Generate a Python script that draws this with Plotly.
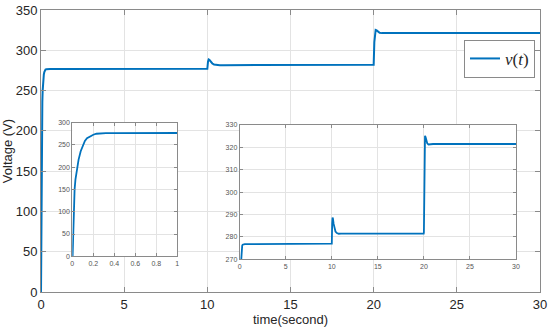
import plotly.graph_objects as go

# ---- data ----
time_s = [0, 0.003, 0.008, 0.012, 0.016, 0.022, 0.03, 0.04, 0.05, 0.06, 0.08,
          0.10, 0.12, 0.14, 0.17, 0.20, 0.23, 0.27, 0.32, 0.40, 0.55, 1.0,
          5.0, 9.98, 10.0, 10.04, 10.08, 10.12, 10.2, 10.3, 10.4, 10.55, 10.75,
          11.0, 15.0, 19.98, 20.0, 20.04, 20.08, 20.12, 20.18, 20.26, 20.36,
          20.5, 20.7, 21.0, 25.0, 30.0]
voltage = [0, 0, 40, 80, 110, 150, 172, 190, 204, 217, 236,
           250, 259, 265, 270, 273, 275.2, 276.1, 276.5, 276.7, 276.8, 276.8,
           276.8, 276.8, 277.0, 286.0, 288.7, 288.2, 285.8, 283.6, 282.4, 281.7, 281.4,
           281.5, 281.5, 281.5, 282.0, 310.0, 323.5, 325.2, 324.6, 323.0, 321.8,
           321.3, 321.4, 321.5, 321.5, 321.5]

main_xticks = [0, 5, 10, 15, 20, 25, 30]
main_yticks = [0, 50, 100, 150, 200, 250, 300, 350]
inset1_xticks = [0, 0.2, 0.4, 0.6, 0.8, 1]
inset1_xlabels = ["0", "0.2", "0.4", "0.6", "0.8", "1"]
inset1_yticks = [0, 50, 100, 150, 200, 250, 300]
inset2_xticks = [0, 5, 10, 15, 20, 25, 30]
inset2_yticks = [270, 280, 290, 300, 310, 320, 330]

LINE = "#0072BD"
AX = "#8a8a8a"
GRID = "#e3e3e3"
TXT = "#262626"

fig = go.Figure()
fig.add_trace(go.Scatter(x=time_s, y=voltage, mode="lines", name="<i>v</i>(<i>t</i>)",
                         line=dict(color=LINE, width=2), xaxis="x", yaxis="y"))
fig.add_trace(go.Scatter(x=time_s, y=voltage, mode="lines", showlegend=False,
                         line=dict(color=LINE, width=1.8), xaxis="x2", yaxis="y2"))
fig.add_trace(go.Scatter(x=time_s, y=voltage, mode="lines", showlegend=False,
                         line=dict(color=LINE, width=1.8), xaxis="x3", yaxis="y3"))

# white backgrounds of the insets (drawn under their own grids)
fig.add_shape(type="rect", xref="x2 domain", yref="y2 domain", x0=0, x1=1, y0=0, y1=1,
              fillcolor="white", line=dict(width=0), layer="below")
fig.add_shape(type="rect", xref="x3 domain", yref="y3 domain", x0=0, x1=1, y0=0, y1=1,
              fillcolor="white", line=dict(width=0), layer="below")

axis_common = dict(showline=True, linecolor=AX, linewidth=1, mirror="ticks",
                   ticks="inside", tickcolor=AX, showgrid=True, gridcolor=GRID,
                   gridwidth=1, zeroline=False, automargin=False)

fig.update_layout(
    width=550, height=332,
    margin=dict(l=41, r=10, t=10, b=40),
    paper_bgcolor="white", plot_bgcolor="white",
    font=dict(family="Liberation Sans, Arial, sans-serif", color=TXT, size=13),
    xaxis=dict(domain=[0, 1], anchor="y", range=[0, 30], tickvals=main_xticks,
               ticklen=5, tickfont=dict(size=13),
               title=dict(text="time(second)", font=dict(size=13), standoff=2),
               **axis_common),
    yaxis=dict(domain=[0, 1], anchor="x", range=[0, 350], tickvals=main_yticks,
               ticklen=5, tickfont=dict(size=13),
               title=dict(text="Voltage (V)", font=dict(size=13), standoff=3),
               **axis_common),
    xaxis2=dict(domain=[0.0627, 0.2732], anchor="y2", range=[0, 1],
                tickvals=inset1_xticks, ticktext=inset1_xlabels, ticklen=3,
                tickfont=dict(size=7, color="#555"), **axis_common),
    yaxis2=dict(domain=[0.1266, 0.6004], anchor="x2", range=[0, 300],
                tickvals=inset1_yticks, ticklen=3,
                tickfont=dict(size=7, color="#555"), **axis_common),
    xaxis3=dict(domain=[0.3982, 0.9519], anchor="y3", range=[0, 30],
                tickvals=inset2_xticks, ticklen=3,
                tickfont=dict(size=7, color="#555"), **axis_common),
    yaxis3=dict(domain=[0.116, 0.5922], anchor="x3", range=[270, 330],
                tickvals=inset2_yticks, ticklen=3,
                tickfont=dict(size=7, color="#555"), **axis_common),
    legend=dict(x=0.99, y=0.894, xanchor="right", yanchor="top",
                bgcolor="white", bordercolor=AX, borderwidth=1,
                font=dict(family="Liberation Serif, serif", size=17, color=TXT),
                itemwidth=30, tracegroupgap=0),
    showlegend=True,
)

fig.write_html("out.html", config={"displayModeBar": False},
               post_script="document.body.style.margin='0';document.body.style.overflow='hidden';")
